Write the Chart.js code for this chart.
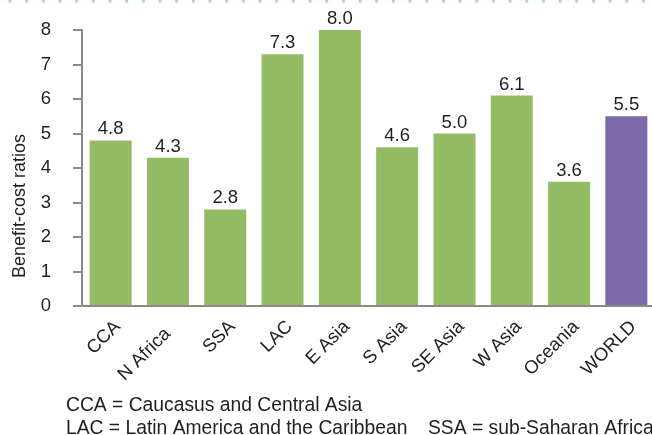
<!DOCTYPE html>
<html>
<head>
<meta charset="utf-8">
<script src="https://cdn.jsdelivr.net/npm/chart.js@4/dist/chart.umd.min.js"></script>
<style>
  html, body { margin: 0; padding: 0; background: #ffffff; overflow: hidden; }
  #wrap { width: 660px; height: 435px; }
</style>
</head>
<body>
<div id="wrap"><canvas id="c" width="660" height="435"></canvas></div>
<script>
// Regional benefit-cost ratios
const regions = ['CCA', 'N Africa  ', 'SSA', 'LAC', 'E Asia', 'S Asia', 'SE Asia', 'W Asia', 'Oceania', 'WORLD'];
const ratios = [4.8, 4.3, 2.8, 7.3, 8.0, 4.6, 5.0, 6.1, 3.6, 5.5];
const yTicks = [0, 1, 2, 3, 4, 5, 6, 7, 8];
const yTitle = 'Benefit-cost ratios';
const footnotes = [
  ['CCA = Caucasus and Central Asia'],
  ['LAC = Latin America and the Caribbean', 'SSA = sub-Saharan Africa']
];

const GREEN = '#94bc64';
const PURPLE = '#7d69a7';
const AXIS = '#8a8a8a';
const TEXT = '#231f20';
const FONT = '"Liberation Sans", Arial, sans-serif';

const barColors = regions.map(r => r === 'WORLD' ? PURPLE : GREEN);

// Value labels above bars, y-axis title, footnotes and the dotted top rule
const decorations = {
  id: 'decorations',
  afterDatasetsDraw(chart) {
    const ctx = chart.ctx;
    const meta = chart.getDatasetMeta(0);
    ctx.save();
    ctx.fillStyle = TEXT;
    ctx.font = '18.5px ' + FONT;
    ctx.textAlign = 'center';
    ctx.textBaseline = 'alphabetic';
    meta.data.forEach((bar, i) => {
      ctx.fillText(ratios[i].toFixed(1), bar.x, bar.y - 6);
    });
    ctx.restore();
  },
  afterDraw(chart) {
    const ctx = chart.ctx;
    ctx.save();
    // dotted rule along the top edge
    ctx.strokeStyle = '#a6d3e3';
    ctx.lineWidth = 3;
    ctx.setLineDash([3, 13.67]);
    ctx.beginPath();
    ctx.moveTo(8.5, 1);
    ctx.lineTo(chart.width, 1);
    ctx.stroke();
    ctx.setLineDash([]);

    // y-axis title
    ctx.fillStyle = TEXT;
    ctx.font = '18px ' + FONT;
    ctx.translate(25, 206);
    ctx.rotate(-Math.PI / 2);
    ctx.textAlign = 'center';
    ctx.textBaseline = 'alphabetic';
    ctx.fillText(yTitle, 0, 0);
    ctx.restore();

    // footnotes
    ctx.save();
    ctx.fillStyle = TEXT;
    ctx.font = '19.3px ' + FONT;
    ctx.textAlign = 'left';
    ctx.textBaseline = 'alphabetic';
    ctx.fillText(footnotes[0][0], 66, 411);
    ctx.fillText(footnotes[1][0], 66, 434);
    ctx.fillText(footnotes[1][1], 428, 434);
    ctx.restore();
  }
};

new Chart(document.getElementById('c'), {
  type: 'bar',
  data: {
    labels: regions,
    datasets: [{
      data: ratios,
      backgroundColor: barColors,
      borderWidth: 0,
      categoryPercentage: 1,
      barPercentage: 0.733
    }]
  },
  options: {
    responsive: false,
    animation: false,
    devicePixelRatio: 1,
    layout: { padding: { top: 30, right: 5, left: 0, bottom: 0 } },
    plugins: {
      legend: { display: false },
      tooltip: { enabled: false },
      title: { display: false }
    },
    scales: {
      x: {
        grid: { display: false, drawTicks: false },
        border: { display: true, color: AXIS, width: 2 },
        ticks: {
          color: TEXT,
          font: { family: FONT, size: 18.5 },
          maxRotation: 45,
          minRotation: 45,
          padding: 10,
          labelOffset: 7,
          autoSkip: false
        },
        afterFit(scale) {
          scale.height = 129;
          scale.paddingLeft = 0;
          scale.paddingRight = 0;
        }
      },
      y: {
        min: 0,
        max: 8,
        afterBuildTicks(scale) { scale.ticks = yTicks.map(v => ({ value: v })); },
        grid: { drawOnChartArea: false, drawTicks: true, tickLength: 9, color: AXIS, lineWidth: 2 },
        border: { display: true, color: AXIS, width: 2 },
        ticks: {
          color: TEXT,
          font: { family: FONT, size: 18.5 },
          padding: 22
        },
        afterFit(scale) {
          scale.width = 82;
          scale.paddingTop = 0;
          scale.paddingBottom = 0;
        }
      }
    }
  },
  plugins: [decorations]
});
</script>
</body>
</html>
